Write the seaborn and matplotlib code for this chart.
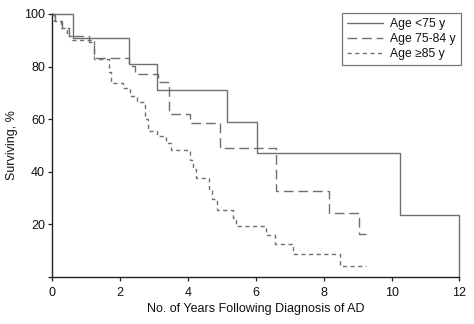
import matplotlib
matplotlib.use("Agg")
import matplotlib.pyplot as plt
import matplotlib.transforms as mtransforms
import seaborn as sns
import pandas as pd

# ---- data ----
groups = ["Age <75 y", "Age 75-84 y", "Age \u226585 y"]

t_lt75 = [0, 0.61, 2.28, 3.10, 5.16, 6.05, 10.24, 12.0]
s_lt75 = [100, 91.0, 80.8, 71.0, 59.0, 47.0, 23.7, 0.0]

t_75_84 = [0, 0.08, 0.30, 0.50, 1.10, 1.25, 2.28, 2.45, 3.12, 3.45, 4.05, 4.94, 6.59, 8.15, 9.04, 9.24]
s_75_84 = [100, 97.5, 94.5, 91.5, 89.5, 83.1, 80.3, 77.2, 74.0, 62.0, 58.6, 49.1, 32.6, 24.5, 16.3, 16.3]

t_ge85 = [0, 0.07, 0.27, 0.45, 0.60, 1.25, 1.69, 1.75, 2.10, 2.30, 2.50, 2.75, 2.82, 3.10, 3.35, 3.50,
          4.05, 4.15, 4.25, 4.62, 4.72, 4.85, 5.33, 5.43, 6.31, 6.56, 7.10, 8.47, 9.26]
s_ge85 = [100, 97.5, 94.5, 91.5, 90.0, 83.0, 78.0, 73.6, 72.0, 69.0, 66.5, 60.0, 55.5, 53.5, 51.0, 48.2,
          44.5, 41.0, 37.7, 33.6, 29.5, 25.4, 22.3, 19.3, 15.9, 12.7, 8.6, 4.1, 4.1]

x_ticks = [0, 2, 4, 6, 8, 10, 12]
y_ticks = [0, 20, 40, 60, 80, 100]

frames = []
for g, t, s in zip(groups, [t_lt75, t_75_84, t_ge85], [s_lt75, s_75_84, s_ge85]):
    frames.append(pd.DataFrame({"t": t, "s": s, "group": g}))
df = pd.concat(frames, ignore_index=True)

# ---- style ----
sns.set_style("ticks")
plt.rcParams["font.family"] = ["Liberation Sans", "DejaVu Sans"]
plt.rcParams["font.size"] = 8.5

fig = plt.figure(figsize=(4.74, 3.24), dpi=100)
ax = fig.add_axes([0.1097, 0.1451, 0.8597, 0.8117])

line_col = "#707070"
dash_map = {groups[0]: "", groups[1]: (7, 3.5), groups[2]: (3, 2.5)}
palette = {g: line_col for g in groups}

sns.lineplot(data=df, x="t", y="s", hue="group", style="group", dashes=dash_map,
             palette=palette, estimator=None, sort=False, drawstyle="steps-post",
             linewidth=1.0, ax=ax, legend=False)
for ln in ax.lines:
    ln.set_clip_on(False)

ax.set_xlim(0, 12)
ax.set_ylim(0, 100)
ax.set_xticks(x_ticks)
ax.set_yticks(y_ticks)
ax.set_xticklabels([str(v) for v in x_ticks])
ax.set_yticklabels([""] + [str(v) for v in y_ticks[1:]])
# shift the shared corner "0" a little to the left
lbl0 = ax.get_xticklabels()[0]
lbl0.set_transform(lbl0.get_transform() + mtransforms.ScaledTranslation(-8 / 100, 0, fig.dpi_scale_trans))

sns.despine(ax=ax)
for sp in ["left", "bottom"]:
    ax.spines[sp].set_color("#222222")
    ax.spines[sp].set_linewidth(1.0)
ax.tick_params(axis="both", direction="out", length=3, width=0.9, color="#222222",
               labelsize=9, labelcolor="#111111")
ax.tick_params(axis="x", pad=4)
ax.tick_params(axis="y", pad=2)

ax.set_xlabel("No. of Years Following Diagnosis of AD", fontsize=9, color="#111111", labelpad=3)
ax.set_ylabel("Surviving, %", fontsize=9, color="#111111", labelpad=4)

handles = ax.lines[:3]
leg = ax.legend(handles, groups, loc="upper right", bbox_to_anchor=(1.003, 1.004),
                frameon=True, fancybox=False, handlelength=3.0, handletextpad=0.55,
                labelspacing=0.25, borderpad=0.42, fontsize=8.7, borderaxespad=0.0)
leg.get_frame().set_edgecolor("#555555")
leg.get_frame().set_linewidth(0.9)
for txt in leg.get_texts():
    txt.set_color("#111111")

fig.savefig("out.png", dpi=100)
